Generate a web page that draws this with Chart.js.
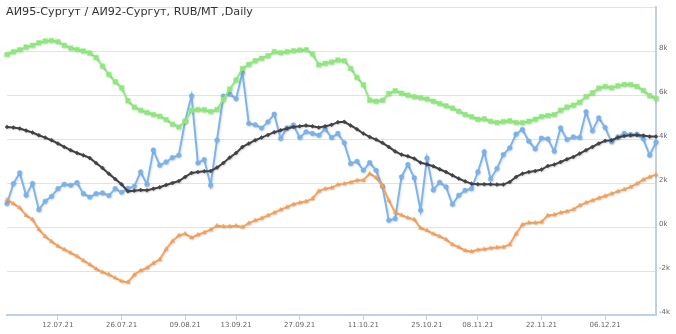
<!DOCTYPE html>
<html>
<head>
<meta charset="utf-8">
<script src="https://cdn.jsdelivr.net/npm/chart.js@4.4.1/dist/chart.umd.min.js"></script>
<style>
  html, body { margin: 0; padding: 0; background: #fff; }
  #wrap { position: relative; width: 676px; height: 334px; }
  #title {
    position: absolute; left: 6px; top: 5px;
    font: 11.2px "DejaVu Sans", sans-serif; color: #333; white-space: nowrap;
  }
</style>
</head>
<body>
<div id="wrap">
  <canvas id="chart" width="676" height="334"></canvas>
  <div id="title">АИ95-Сургут / АИ92-Сургут, RUB/MT ,Daily</div>
</div>
<script>
// === Data ===
const dates = [
  '30.06.21','01.07.21','02.07.21','05.07.21','06.07.21','07.07.21','08.07.21','09.07.21',
  '12.07.21','13.07.21','14.07.21','15.07.21','16.07.21','19.07.21','20.07.21','21.07.21','22.07.21','23.07.21',
  '26.07.21','27.07.21','28.07.21','29.07.21','30.07.21','02.08.21','03.08.21','04.08.21','05.08.21','06.08.21',
  '09.08.21','10.08.21','11.08.21','12.08.21','13.08.21','16.08.21','17.08.21','18.08.21',
  '13.09.21','14.09.21','15.09.21','16.09.21','17.09.21','20.09.21','21.09.21','22.09.21','23.09.21','24.09.21',
  '27.09.21','28.09.21','29.09.21','30.09.21','01.10.21','04.10.21','05.10.21','06.10.21','07.10.21','08.10.21',
  '11.10.21','12.10.21','13.10.21','14.10.21','15.10.21','18.10.21','19.10.21','20.10.21','21.10.21','22.10.21',
  '25.10.21','26.10.21','27.10.21','28.10.21','29.10.21','01.11.21','02.11.21','03.11.21',
  '08.11.21','09.11.21','10.11.21','11.11.21','12.11.21','15.11.21','16.11.21','17.11.21','18.11.21','19.11.21',
  '22.11.21','23.11.21','24.11.21','25.11.21','26.11.21','29.11.21','30.11.21','01.12.21','02.12.21','03.12.21',
  '06.12.21','07.12.21','08.12.21','09.12.21','10.12.21','13.12.21','14.12.21','15.12.21','16.12.21'
];

const shownDates = ['12.07.21','26.07.21','09.08.21','13.09.21','27.09.21','11.10.21','25.10.21','08.11.21','22.11.21','06.12.21'];

// spread (blue)
const spread = [
  1065,1975,2460,1445,1975,790,1170,1395,1745,1945,1900,2020,1520,1365,1520,1550,1430,1745,1580,1760,1850,
  2505,1945,3495,2810,2960,3160,3265,4830,5965,2915,3070,1900,3950,5955,6045,5835,7020,4710,4650,4500,
  4785,5135,4025,4510,4635,4070,4330,4255,4175,4465,4070,4255,3830,2885,2990,2580,2930,2580,1855,305,380,
  2280,2840,2235,760,3130,1685,2035,1825,1035,1445,1670,1745,2505,3420,2185,2660,3295,3600,4225,4435,
  3905,3555,4040,4010,3450,4510,3980,4100,4070,5240,4375,4965,4525,3875,4100,4255,4210,4225,4010,3265,3860
];

// average (black)
const average = [
  4555,4525,4480,4390,4300,4175,4070,3950,3800,3645,3495,3370,3265,3145,2915,2690,2430,2185,1945,1625,1655,
  1685,1670,1745,1810,1915,2005,2095,2280,2460,2505,2535,2550,2705,2915,3160,3370,3645,3800,3950,4070,
  4190,4315,4405,4480,4555,4585,4620,4585,4525,4585,4650,4770,4785,4620,4450,4255,4100,3980,3830,3645,3440,
  3295,3220,3115,2930,2855,2765,2630,2505,2355,2205,2080,1975,1945,1945,1945,1930,1930,2050,2280,2430,
  2505,2550,2615,2780,2840,2960,3085,3190,3340,3495,3645,3800,3920,3950,4070,4145,4175,4190,4160,4115,4115
];

// upper band (green)
const upper = [
  7850,7975,8065,8185,8265,8385,8460,8490,8430,8265,8140,8080,8005,7915,7715,7320,6940,6610,6335,5740,5455,
  5315,5210,5120,5045,4890,4680,4555,4815,5315,5345,5330,5255,5345,5805,6275,6685,7215,7400,7565,7680,
  7790,7975,7930,7975,8020,8050,8065,7870,7380,7445,7505,7595,7565,7215,6805,6470,5770,5725,5770,6075,6200,
  6090,6000,5925,5880,5820,5725,5620,5515,5410,5270,5120,5015,4905,4920,4815,4755,4800,4830,4755,4740,
  4815,4905,5030,5075,5120,5315,5455,5545,5680,5940,6105,6320,6395,6335,6425,6485,6485,6395,6215,5970,5850
];

// lower band (orange)
const lower = [
  1245,1065,880,530,350,-105,-425,-655,-865,-1020,-1170,-1320,-1520,-1700,-1900,-2050,-2155,-2310,-2460,-2505,-2170,
  -1975,-1855,-1640,-1475,-1005,-640,-380,-305,-485,-350,-245,-120,60,30,30,60,0,180,305,400,
  530,655,790,910,1035,1110,1170,1290,1640,1745,1790,1930,1975,2035,2125,2125,2430,2250,1870,1215,660,
  545,425,350,-45,-150,-305,-425,-560,-790,-910,-1065,-1110,-1035,-1005,-955,-925,-910,-790,-305,115,
  195,195,230,530,560,655,715,805,985,1110,1215,1320,1415,1520,1625,1715,1825,1975,2155,2280,2385
];

const yTicks = [-4000, -2000, 0, 2000, 4000, 6000, 8000, 10000];

// light shadow under the lines
const lineShadow = {
  id: 'lineShadow',
  beforeDatasetDraw(chart) {
    const c = chart.ctx;
    c.save();
    c.shadowColor = 'rgba(0,0,0,0.12)';
    c.shadowOffsetX = 1;
    c.shadowOffsetY = 1;
    c.shadowBlur = 2;
  },
  afterDatasetDraw(chart) {
    chart.ctx.restore();
  }
};

function series(data, color, style, radius, order) {
  return {
    data,
    borderColor: color,
    backgroundColor: color,
    borderWidth: 2,
    pointStyle: style,
    pointRadius: radius,
    pointBackgroundColor: color,
    pointBorderColor: color,
    pointBorderWidth: 0.5,
    tension: 0,
    fill: false,
    order
  };
}

Chart.defaults.font.family = '"DejaVu Sans", sans-serif';

new Chart(document.getElementById('chart'), {
  type: 'line',
  data: {
    labels: dates,
    datasets: [
      series(spread, '#7cb5ec', 'circle', 2.4, 3),
      series(average, '#434348', 'rectRot', 2, 2),
      series(upper, '#90ed7d', 'rect', 3.2, 1),
      series(lower, '#f7a35c', 'triangle', 2.4, 0)
    ]
  },
  options: {
    responsive: false,
    animation: false,
    layout: { padding: { top: 7, left: 7, right: 0, bottom: 0 } },
    plugins: { legend: { display: false }, tooltip: { enabled: false }, title: { display: false } },
    scales: {
      x: {
        type: 'category',
        offset: false,
        afterFit(scale) { scale.height = 19; },
        border: { color: '#c0d0e0', width: 2 },
        grid: {
          drawOnChartArea: false,
          drawTicks: true,
          tickLength: 5,
          tickColor: ctx => shownDates.includes(dates[ctx.index]) ? '#c0d0e0' : 'rgba(0,0,0,0)'
        },
        ticks: {
          autoSkip: false,
          maxRotation: 0,
          minRotation: 0,
          padding: 1,
          color: '#666',
          font: { size: 7 },
          callback: (v, i) => shownDates.includes(dates[i]) ? dates[i] : ''
        }
      },
      y: {
        position: 'right',
        min: yTicks[0],
        max: yTicks[yTicks.length - 1],
        afterFit(scale) { scale.width = 20; },
        afterBuildTicks(scale) { scale.ticks = yTicks.map(v => ({ value: v })); },
        border: { color: '#c0d0e0', width: 2 },
        grid: { color: '#e2e2e2', lineWidth: 1, drawTicks: false },
        ticks: {
          padding: 3,
          labelOffset: -3,
          color: '#666',
          font: { size: 7 },
          callback: v => v === 10000 ? '' : (v / 1000) + 'k'
        }
      }
    }
  },
  plugins: [lineShadow]
});
</script>
</body>
</html>
